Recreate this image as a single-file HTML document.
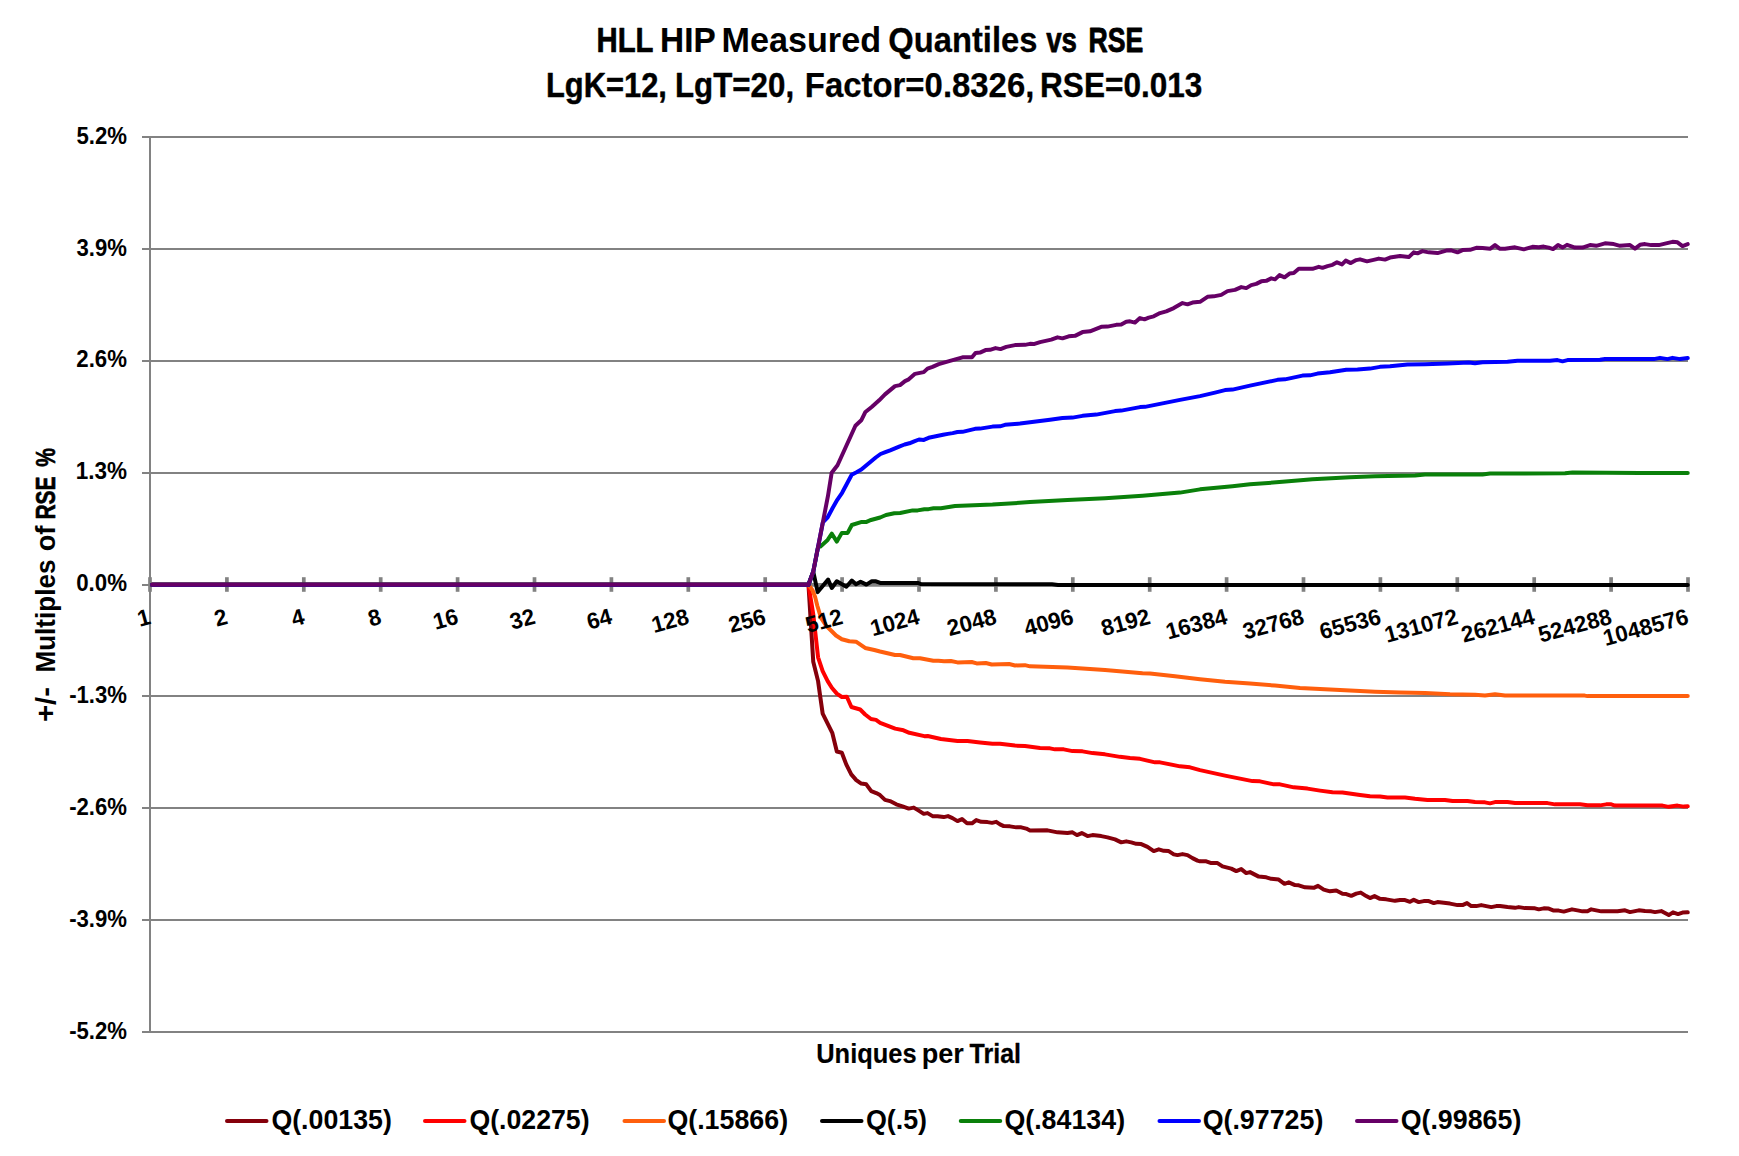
<!DOCTYPE html>
<html lang="en"><head><meta charset="utf-8"><title>HLL HIP Measured Quantiles vs RSE</title>
<style>html,body{margin:0;padding:0;background:#fff;}body{width:1739px;height:1156px;overflow:hidden;}svg{display:block;}text{font-family:"Liberation Sans", sans-serif;font-weight:bold;fill:#000;}</style>
</head><body>
<svg width="1739" height="1156" viewBox="0 0 1739 1156">
<rect x="0" y="0" width="1739" height="1156" fill="#ffffff"/>
<g stroke="#828282" stroke-width="2" fill="none">
<line x1="142" y1="137.00" x2="1688.00" y2="137.00"/>
<line x1="142" y1="249.00" x2="1688.00" y2="249.00"/>
<line x1="142" y1="361.00" x2="1688.00" y2="361.00"/>
<line x1="142" y1="473.00" x2="1688.00" y2="473.00"/>
<line x1="142" y1="585.00" x2="1688.00" y2="585.00"/>
<line x1="142" y1="696.00" x2="1688.00" y2="696.00"/>
<line x1="142" y1="808.00" x2="1688.00" y2="808.00"/>
<line x1="142" y1="920.00" x2="1688.00" y2="920.00"/>
<line x1="142" y1="1032.00" x2="1688.00" y2="1032.00"/>
</g>
<line x1="150" y1="136.00" x2="150" y2="1033.00" stroke="#828282" stroke-width="2"/>
<g stroke="#828282" stroke-width="3.7" fill="none">
<line x1="150" y1="584.85" x2="1688.00" y2="584.85"/>
<line x1="150.00" y1="577.20" x2="150.00" y2="591.80"/>
<line x1="226.90" y1="577.20" x2="226.90" y2="591.80"/>
<line x1="303.80" y1="577.20" x2="303.80" y2="591.80"/>
<line x1="380.70" y1="577.20" x2="380.70" y2="591.80"/>
<line x1="457.60" y1="577.20" x2="457.60" y2="591.80"/>
<line x1="534.50" y1="577.20" x2="534.50" y2="591.80"/>
<line x1="611.40" y1="577.20" x2="611.40" y2="591.80"/>
<line x1="688.30" y1="577.20" x2="688.30" y2="591.80"/>
<line x1="765.20" y1="577.20" x2="765.20" y2="591.80"/>
<line x1="842.10" y1="577.20" x2="842.10" y2="591.80"/>
<line x1="919.00" y1="577.20" x2="919.00" y2="591.80"/>
<line x1="995.90" y1="577.20" x2="995.90" y2="591.80"/>
<line x1="1072.80" y1="577.20" x2="1072.80" y2="591.80"/>
<line x1="1149.70" y1="577.20" x2="1149.70" y2="591.80"/>
<line x1="1226.60" y1="577.20" x2="1226.60" y2="591.80"/>
<line x1="1303.50" y1="577.20" x2="1303.50" y2="591.80"/>
<line x1="1380.40" y1="577.20" x2="1380.40" y2="591.80"/>
<line x1="1457.30" y1="577.20" x2="1457.30" y2="591.80"/>
<line x1="1534.20" y1="577.20" x2="1534.20" y2="591.80"/>
<line x1="1611.10" y1="577.20" x2="1611.10" y2="591.80"/>
<line x1="1688.00" y1="577.20" x2="1688.00" y2="591.80"/>
</g>
<g fill="none" stroke-width="4" stroke-linejoin="round" stroke-linecap="round">
<polyline stroke="#85000B" points="152.00,584.70 808.46,584.70 813.26,661.80 818.08,681.13 820.17,696.13 822.67,713.63 832.25,732.80 836.83,751.55 841.83,752.80 846.25,764.35 851.25,774.35 856.25,780.10 861.25,783.60 866.25,784.35 871.25,791.10 876.25,793.10 880.00,795.10 885.00,799.85 890.00,801.10 896.25,804.35 902.50,806.35 908.75,808.60 913.75,807.60 918.75,810.60 923.75,813.85 927.50,813.10 933.00,816.35 937.50,816.35 943.75,817.10 948.00,816.10 952.50,818.10 957.50,821.10 962.00,819.10 967.00,823.35 972.00,823.35 976.25,820.10 981.25,821.85 987.50,822.10 992.00,822.85 996.25,821.85 1000.00,824.35 1003.75,826.10 1010.00,826.35 1016.25,827.35 1021.25,827.35 1026.25,828.60 1030.00,830.60 1047.50,830.35 1057.50,832.35 1067.50,833.10 1072.50,832.35 1077.00,835.10 1081.75,833.10 1087.50,836.10 1092.50,835.10 1101.25,836.10 1107.50,837.35 1115.00,839.35 1121.25,842.35 1126.25,841.35 1131.25,842.35 1136.25,843.85 1141.25,844.10 1147.50,846.85 1153.75,851.10 1158.75,849.35 1163.75,850.85 1168.75,851.10 1173.75,854.35 1177.50,855.10 1182.50,854.10 1187.50,855.10 1192.50,858.10 1197.50,860.60 1200.00,861.35 1206.25,861.35 1211.25,863.10 1217.50,863.10 1222.50,866.35 1231.25,868.60 1236.25,871.10 1241.25,869.10 1246.25,873.10 1250.00,872.10 1258.75,876.60 1266.25,877.35 1271.25,878.85 1278.75,879.60 1284.50,883.85 1288.75,882.35 1295.00,885.10 1298.75,885.35 1305.00,887.35 1313.75,887.85 1318.00,885.85 1323.75,889.60 1330.00,891.35 1336.25,890.60 1342.50,893.85 1346.25,894.10 1351.25,895.85 1356.25,893.60 1360.75,892.60 1366.25,896.10 1370.00,898.10 1374.50,896.10 1380.00,898.85 1386.25,899.35 1395.00,900.85 1400.00,900.10 1405.00,900.10 1410.00,901.85 1413.75,899.85 1418.75,902.10 1423.75,901.10 1428.75,901.10 1433.75,903.10 1437.50,902.10 1443.75,902.85 1450.00,903.60 1457.50,905.10 1462.50,905.10 1467.00,903.10 1471.25,906.10 1476.25,906.10 1481.25,905.10 1491.25,907.10 1496.25,906.10 1500.00,906.10 1507.50,907.10 1515.00,907.85 1518.75,907.10 1525.00,908.10 1535.00,908.35 1538.75,909.35 1543.75,908.35 1548.75,908.60 1553.75,910.60 1558.75,910.60 1563.75,911.60 1572.00,909.35 1577.50,910.35 1582.50,911.35 1587.50,911.35 1591.25,909.35 1596.25,910.35 1601.25,911.35 1617.50,911.35 1625.00,910.35 1630.00,912.10 1638.75,910.35 1645.00,911.10 1651.25,911.35 1655.00,912.10 1661.25,911.10 1668.75,915.10 1673.00,912.35 1678.00,914.10 1682.50,912.60 1687.75,912.35"/>
<polyline stroke="#FF0000" points="152.00,584.70 808.46,584.70 813.26,614.30 818.07,657.30 822.67,671.13 827.67,681.13 831.83,687.80 836.83,693.63 841.83,696.97 846.83,696.80 851.42,706.97 860.17,709.47 865.17,714.47 871.00,719.05 876.00,719.88 880.17,722.80 895.17,728.63 903.50,730.30 909.33,732.80 924.33,736.13 927.67,735.97 940.92,739.05 957.50,741.10 967.50,741.10 980.00,742.60 992.50,743.85 1000.00,743.85 1015.00,745.60 1025.00,746.10 1040.00,748.10 1050.00,748.35 1055.00,749.35 1063.75,749.35 1072.50,751.10 1082.50,751.35 1092.50,753.10 1105.00,754.35 1120.00,756.85 1130.00,758.10 1140.00,758.85 1155.00,762.35 1160.00,762.35 1180.00,766.35 1190.00,767.35 1200.00,770.10 1225.00,775.60 1252.50,781.10 1260.00,781.35 1273.75,784.35 1280.00,784.35 1293.75,787.35 1307.50,788.60 1320.00,790.60 1332.50,792.35 1342.50,792.60 1360.00,795.10 1370.00,796.35 1380.00,796.60 1387.50,797.60 1405.00,797.60 1415.00,798.85 1427.50,800.10 1445.00,800.10 1452.50,801.10 1467.50,801.10 1475.00,802.10 1485.00,802.35 1490.00,803.35 1495.00,802.10 1507.50,802.10 1515.00,803.10 1547.50,803.10 1555.00,804.35 1580.00,804.35 1587.50,805.35 1600.00,805.35 1606.25,804.35 1611.25,804.35 1615.00,805.60 1662.50,805.60 1668.75,806.85 1677.50,805.60 1683.75,806.60 1687.75,806.35"/>
<polyline stroke="#FF5F0D" points="152.00,584.70 808.46,584.70 812.67,590.47 815.17,597.13 817.25,605.47 821.00,617.97 826.00,625.47 831.00,630.47 836.00,635.47 841.83,639.22 849.33,641.30 856.00,641.72 865.17,647.97 874.33,650.05 880.00,651.55 895.00,655.05 900.00,655.05 913.33,658.22 920.00,658.22 933.33,660.72 938.33,660.72 944.17,661.13 950.83,660.97 957.50,662.38 971.67,661.97 976.67,663.38 985.83,663.05 991.67,664.47 1009.17,664.05 1015.00,665.47 1024.92,665.13 1030.00,666.35 1067.50,667.60 1105.00,670.10 1142.50,673.35 1150.00,673.60 1175.00,676.35 1200.00,679.35 1225.00,681.85 1250.00,683.60 1275.00,685.60 1300.00,688.10 1325.00,689.35 1350.00,690.60 1375.00,691.85 1400.00,692.60 1425.00,693.10 1450.00,694.35 1475.00,694.85 1485.00,695.60 1495.00,694.35 1505.00,695.60 1584.75,695.60 1587.50,696.10 1687.75,696.10"/>
<polyline stroke="#000000" points="152.00,584.70 808.46,584.70 813.26,571.80 817.70,592.10 822.90,585.80 828.10,579.60 831.80,588.00 836.80,581.30 842.00,584.30 846.40,586.70 851.80,580.50 856.00,584.20 860.60,581.70 866.40,584.60 871.80,581.30 876.00,581.30 880.20,582.90 917.70,582.90 921.00,584.10 1052.00,584.30 1058.00,584.90 1687.80,584.90"/>
<polyline stroke="#0A800A" points="152.00,584.70 808.46,584.70 813.26,571.60 818.07,547.00 820.17,546.63 827.67,539.97 831.83,533.72 836.83,541.63 841.83,532.88 847.67,532.88 851.83,524.97 861.00,522.05 866.00,522.05 871.00,519.97 880.17,517.47 886.00,514.97 894.33,513.30 900.17,513.05 912.67,510.38 917.67,510.38 924.33,509.30 928.50,509.13 933.50,508.30 940.92,508.30 955.00,506.10 992.50,504.60 1030.00,502.10 1067.50,500.10 1105.00,498.35 1142.50,495.85 1180.00,492.60 1200.00,489.35 1232.50,486.35 1250.00,484.35 1282.50,481.85 1312.50,479.35 1350.00,477.35 1375.00,476.35 1415.00,475.60 1425.00,474.60 1482.50,474.60 1490.00,473.60 1565.00,473.35 1572.50,472.60 1640.00,473.10 1687.75,473.10"/>
<polyline stroke="#0000FF" points="152.00,584.70 808.46,584.70 813.26,571.60 822.88,522.30 827.68,517.30 832.49,508.30 837.29,499.80 842.10,492.80 846.91,483.80 851.71,474.80 856.52,472.30 861.33,469.60 866.13,465.50 870.94,461.50 875.74,457.50 880.55,454.00 885.36,452.10 890.16,450.30 894.97,448.30 899.78,446.30 904.58,444.50 909.39,443.30 914.19,441.30 919.00,439.50 923.81,439.90 928.61,437.80 933.42,436.80 938.23,435.80 943.03,434.80 947.84,433.90 952.64,433.10 957.45,432.00 962.50,431.85 975.00,428.85 980.00,428.60 992.50,426.60 1000.00,426.35 1005.00,424.85 1020.00,423.60 1040.00,421.10 1050.00,419.85 1062.50,418.10 1072.50,417.60 1082.50,415.85 1096.25,414.60 1115.00,411.10 1121.25,410.60 1140.00,407.10 1145.00,406.85 1180.00,399.85 1200.00,396.10 1215.00,392.60 1225.00,390.10 1232.50,389.60 1250.00,385.60 1277.50,379.85 1285.00,379.35 1302.50,375.60 1310.00,375.35 1317.50,373.60 1330.00,372.35 1346.25,369.85 1357.50,369.60 1370.00,368.60 1380.00,366.85 1390.00,366.35 1407.50,364.60 1425.00,364.35 1447.50,363.60 1468.75,362.60 1475.00,363.35 1482.50,362.35 1507.50,361.85 1517.50,360.85 1550.00,360.85 1557.50,360.10 1562.50,361.35 1567.50,360.10 1600.00,359.85 1605.00,359.10 1653.75,359.10 1660.00,357.85 1667.50,359.10 1672.50,357.85 1680.00,359.10 1687.75,358.10"/>
<polyline stroke="#660066" points="152.00,584.70 808.46,584.70 813.26,571.60 827.92,496.22 831.67,472.80 837.50,465.30 855.42,425.72 861.25,420.30 865.42,411.97 871.67,406.97 879.17,400.30 885.00,394.35 895.00,386.10 900.00,385.10 905.00,381.10 908.75,379.35 915.00,373.85 923.75,372.10 927.50,368.60 932.50,366.85 938.75,364.10 950.00,360.85 962.50,357.35 972.00,357.35 975.50,353.10 980.00,352.60 985.50,350.10 990.00,349.85 995.50,348.10 1000.50,349.10 1006.25,346.85 1015.00,345.10 1025.00,344.85 1030.00,343.85 1033.75,344.10 1040.00,342.10 1051.25,339.60 1057.50,337.35 1062.50,338.35 1068.75,336.35 1075.00,335.85 1082.50,332.10 1090.00,331.35 1101.25,326.85 1107.50,326.60 1116.25,324.85 1121.25,324.60 1126.25,321.85 1130.00,321.35 1135.00,322.60 1140.00,318.10 1144.50,319.35 1148.75,317.60 1153.75,316.35 1160.00,313.10 1166.25,311.35 1173.75,308.10 1182.50,303.10 1187.50,304.35 1192.50,302.60 1197.50,302.10 1200.00,301.85 1207.50,296.85 1213.75,296.35 1221.25,294.85 1227.50,291.10 1235.00,289.85 1241.25,287.10 1246.25,288.10 1251.25,285.10 1256.25,283.85 1261.25,281.35 1266.25,280.85 1271.25,278.35 1275.00,279.35 1279.50,275.10 1284.50,277.35 1289.50,273.60 1293.75,273.10 1298.75,268.85 1312.50,268.85 1318.75,266.85 1322.50,267.85 1327.50,266.10 1332.50,264.85 1337.00,262.35 1342.00,264.35 1345.75,260.60 1350.75,263.10 1356.25,260.10 1360.00,259.35 1367.00,261.35 1372.50,260.10 1378.75,258.60 1385.00,259.60 1390.00,257.60 1400.00,256.10 1408.75,257.10 1413.75,252.35 1417.50,253.35 1422.50,251.10 1428.75,252.35 1437.50,253.10 1446.25,250.60 1451.25,250.35 1457.50,252.35 1462.50,250.10 1470.00,249.85 1476.25,247.85 1482.50,248.10 1490.00,248.85 1495.00,245.10 1500.00,248.85 1505.00,248.85 1515.00,247.35 1523.75,249.35 1532.50,246.85 1538.75,247.35 1543.75,246.60 1548.75,247.60 1553.00,249.10 1558.00,245.10 1562.50,247.60 1567.00,244.85 1575.00,247.60 1582.50,247.60 1590.00,245.10 1596.25,245.85 1605.00,243.35 1613.75,244.10 1620.00,245.85 1630.00,245.10 1635.00,248.60 1640.00,244.85 1645.00,244.10 1651.25,245.10 1658.75,245.10 1665.00,243.60 1672.50,241.85 1677.50,242.35 1682.50,246.10 1687.75,244.10"/>
</g>
<text y="52.00" font-size="35.20"><tspan x="596.47" textLength="56.50" lengthAdjust="spacingAndGlyphs" stroke="#000" stroke-width="0.64" stroke-linejoin="round">HLL</tspan> <tspan x="660.11" textLength="54.90" lengthAdjust="spacingAndGlyphs" stroke="#000" stroke-width="0.23" stroke-linejoin="round">HIP</tspan> <tspan x="721.51" textLength="159.54" lengthAdjust="spacingAndGlyphs">Measured</tspan> <tspan x="888.34" textLength="149.07" lengthAdjust="spacingAndGlyphs" stroke="#000" stroke-width="0.27" stroke-linejoin="round">Quantiles</tspan> <tspan x="1046.22" textLength="30.79" lengthAdjust="spacingAndGlyphs" stroke="#000" stroke-width="0.75" stroke-linejoin="round">vs</tspan> <tspan x="1088.57" textLength="54.73" lengthAdjust="spacingAndGlyphs" stroke="#000" stroke-width="0.89" stroke-linejoin="round">RSE</tspan></text>
<text y="97.00" font-size="35.20"><tspan x="545.97" textLength="120.97" lengthAdjust="spacingAndGlyphs" stroke="#000" stroke-width="0.46" stroke-linejoin="round">LgK=12,</tspan> <tspan x="675.02" textLength="119.07" lengthAdjust="spacingAndGlyphs" stroke="#000" stroke-width="0.42" stroke-linejoin="round">LgT=20,</tspan> <tspan x="804.82" textLength="229.55" lengthAdjust="spacingAndGlyphs" stroke="#000" stroke-width="0.25" stroke-linejoin="round">Factor=0.8326,</tspan> <tspan x="1040.09" textLength="162.26" lengthAdjust="spacingAndGlyphs" stroke="#000" stroke-width="0.39" stroke-linejoin="round">RSE=0.013</tspan></text>
<text y="143.70" font-size="23.20"><tspan x="76.42" textLength="50.57" lengthAdjust="spacingAndGlyphs">5.2%</tspan></text>
<text y="255.57" font-size="23.20"><tspan x="76.59" textLength="50.39" lengthAdjust="spacingAndGlyphs">3.9%</tspan></text>
<text y="367.45" font-size="23.20"><tspan x="76.33" textLength="50.66" lengthAdjust="spacingAndGlyphs">2.6%</tspan></text>
<text y="479.32" font-size="23.20"><tspan x="75.68" textLength="51.31" lengthAdjust="spacingAndGlyphs">1.3%</tspan></text>
<text y="591.20" font-size="23.20"><tspan x="76.22" textLength="50.77" lengthAdjust="spacingAndGlyphs">0.0%</tspan></text>
<text y="703.08" font-size="23.20"><tspan x="69.13" textLength="57.85" lengthAdjust="spacingAndGlyphs">-1.3%</tspan></text>
<text y="814.95" font-size="23.20"><tspan x="69.13" textLength="57.85" lengthAdjust="spacingAndGlyphs">-2.6%</tspan></text>
<text y="926.83" font-size="23.20"><tspan x="69.13" textLength="57.85" lengthAdjust="spacingAndGlyphs">-3.9%</tspan></text>
<text y="1038.70" font-size="23.20"><tspan x="69.13" textLength="57.85" lengthAdjust="spacingAndGlyphs">-5.2%</tspan></text>
<text transform="translate(151.90,623.4) rotate(-15)" x="0" y="0" font-size="22.8" text-anchor="end" textLength="12.5" lengthAdjust="spacingAndGlyphs">1</text>
<text transform="translate(228.80,623.4) rotate(-15)" x="0" y="0" font-size="22.8" text-anchor="end" textLength="12.5" lengthAdjust="spacingAndGlyphs">2</text>
<text transform="translate(305.70,623.4) rotate(-15)" x="0" y="0" font-size="22.8" text-anchor="end" textLength="12.5" lengthAdjust="spacingAndGlyphs">4</text>
<text transform="translate(382.60,623.4) rotate(-15)" x="0" y="0" font-size="22.8" text-anchor="end" textLength="12.5" lengthAdjust="spacingAndGlyphs">8</text>
<text transform="translate(459.50,623.4) rotate(-15)" x="0" y="0" font-size="22.8" text-anchor="end" textLength="24.9" lengthAdjust="spacingAndGlyphs">16</text>
<text transform="translate(536.40,623.4) rotate(-15)" x="0" y="0" font-size="22.8" text-anchor="end" textLength="24.9" lengthAdjust="spacingAndGlyphs">32</text>
<text transform="translate(613.30,623.4) rotate(-15)" x="0" y="0" font-size="22.8" text-anchor="end" textLength="24.9" lengthAdjust="spacingAndGlyphs">64</text>
<text transform="translate(690.20,623.4) rotate(-15)" x="0" y="0" font-size="22.8" text-anchor="end" textLength="37.4" lengthAdjust="spacingAndGlyphs">128</text>
<text transform="translate(767.10,623.4) rotate(-15)" x="0" y="0" font-size="22.8" text-anchor="end" textLength="37.4" lengthAdjust="spacingAndGlyphs">256</text>
<text transform="translate(844.00,623.4) rotate(-15)" x="0" y="0" font-size="22.8" text-anchor="end" textLength="37.4" lengthAdjust="spacingAndGlyphs">512</text>
<text transform="translate(920.90,623.4) rotate(-15)" x="0" y="0" font-size="22.8" text-anchor="end" textLength="49.9" lengthAdjust="spacingAndGlyphs">1024</text>
<text transform="translate(997.80,623.4) rotate(-15)" x="0" y="0" font-size="22.8" text-anchor="end" textLength="49.9" lengthAdjust="spacingAndGlyphs">2048</text>
<text transform="translate(1074.70,623.4) rotate(-15)" x="0" y="0" font-size="22.8" text-anchor="end" textLength="49.9" lengthAdjust="spacingAndGlyphs">4096</text>
<text transform="translate(1151.60,623.4) rotate(-15)" x="0" y="0" font-size="22.8" text-anchor="end" textLength="49.9" lengthAdjust="spacingAndGlyphs">8192</text>
<text transform="translate(1228.50,623.4) rotate(-15)" x="0" y="0" font-size="22.8" text-anchor="end" textLength="62.4" lengthAdjust="spacingAndGlyphs">16384</text>
<text transform="translate(1305.40,623.4) rotate(-15)" x="0" y="0" font-size="22.8" text-anchor="end" textLength="62.4" lengthAdjust="spacingAndGlyphs">32768</text>
<text transform="translate(1382.30,623.4) rotate(-15)" x="0" y="0" font-size="22.8" text-anchor="end" textLength="62.4" lengthAdjust="spacingAndGlyphs">65536</text>
<text transform="translate(1459.20,623.4) rotate(-15)" x="0" y="0" font-size="22.8" text-anchor="end" textLength="74.8" lengthAdjust="spacingAndGlyphs">131072</text>
<text transform="translate(1536.10,623.4) rotate(-15)" x="0" y="0" font-size="22.8" text-anchor="end" textLength="74.8" lengthAdjust="spacingAndGlyphs">262144</text>
<text transform="translate(1613.00,623.4) rotate(-15)" x="0" y="0" font-size="22.8" text-anchor="end" textLength="74.8" lengthAdjust="spacingAndGlyphs">524288</text>
<text transform="translate(1689.90,623.4) rotate(-15)" x="0" y="0" font-size="22.8" text-anchor="end" textLength="87.3" lengthAdjust="spacingAndGlyphs">1048576</text>
<text y="1063.00" font-size="27.00"><tspan x="816.26" textLength="100.35" lengthAdjust="spacingAndGlyphs" stroke="#000" stroke-width="0.17" stroke-linejoin="round">Uniques</tspan> <tspan x="921.71" textLength="42.20" lengthAdjust="spacingAndGlyphs">per</tspan> <tspan x="969.62" textLength="51.37" lengthAdjust="spacingAndGlyphs" stroke="#000" stroke-width="0.28" stroke-linejoin="round">Trial</tspan></text>
<text y="55.00" font-size="27.00" transform="rotate(-90)"><tspan x="-722.03" textLength="34.90" lengthAdjust="spacingAndGlyphs">+/-</tspan> <tspan x="-672.54" textLength="112.91" lengthAdjust="spacingAndGlyphs">Multiples</tspan> <tspan x="-551.36" textLength="25.71" lengthAdjust="spacingAndGlyphs">of</tspan> <tspan x="-519.59" textLength="43.09" lengthAdjust="spacingAndGlyphs" stroke="#000" stroke-width="0.63" stroke-linejoin="round">RSE</tspan> <tspan x="-466.83" textLength="18.70" lengthAdjust="spacingAndGlyphs" stroke="#000" stroke-width="0.58" stroke-linejoin="round">%</tspan></text>
<line x1="227.00" y1="1120.9" x2="266.50" y2="1120.9" stroke="#85000B" stroke-width="4" stroke-linecap="round"/>
<text y="1128.80" font-size="27.00"><tspan x="271.40" textLength="120.43" lengthAdjust="spacingAndGlyphs">Q(.00135)</tspan></text>
<line x1="425.00" y1="1120.9" x2="464.50" y2="1120.9" stroke="#FF0000" stroke-width="4" stroke-linecap="round"/>
<text y="1128.80" font-size="27.00"><tspan x="469.41" textLength="120.17" lengthAdjust="spacingAndGlyphs">Q(.02275)</tspan></text>
<line x1="624.50" y1="1120.9" x2="664.00" y2="1120.9" stroke="#FF5F0D" stroke-width="4" stroke-linecap="round"/>
<text y="1128.80" font-size="27.00"><tspan x="667.40" textLength="120.68" lengthAdjust="spacingAndGlyphs">Q(.15866)</tspan></text>
<line x1="822.00" y1="1120.9" x2="861.50" y2="1120.9" stroke="#000000" stroke-width="4" stroke-linecap="round"/>
<text y="1128.80" font-size="27.00"><tspan x="865.90" textLength="61.19" lengthAdjust="spacingAndGlyphs">Q(.5)</tspan></text>
<line x1="960.75" y1="1120.9" x2="1000.25" y2="1120.9" stroke="#0A800A" stroke-width="4" stroke-linecap="round"/>
<text y="1128.80" font-size="27.00"><tspan x="1004.40" textLength="120.68" lengthAdjust="spacingAndGlyphs">Q(.84134)</tspan></text>
<line x1="1159.50" y1="1120.9" x2="1199.00" y2="1120.9" stroke="#0000FF" stroke-width="4" stroke-linecap="round"/>
<text y="1128.80" font-size="27.00"><tspan x="1202.65" textLength="120.68" lengthAdjust="spacingAndGlyphs">Q(.97725)</tspan></text>
<line x1="1357.00" y1="1120.9" x2="1396.50" y2="1120.9" stroke="#660066" stroke-width="4" stroke-linecap="round"/>
<text y="1128.80" font-size="27.00"><tspan x="1400.65" textLength="120.68" lengthAdjust="spacingAndGlyphs">Q(.99865)</tspan></text>
</svg>
</body></html>
